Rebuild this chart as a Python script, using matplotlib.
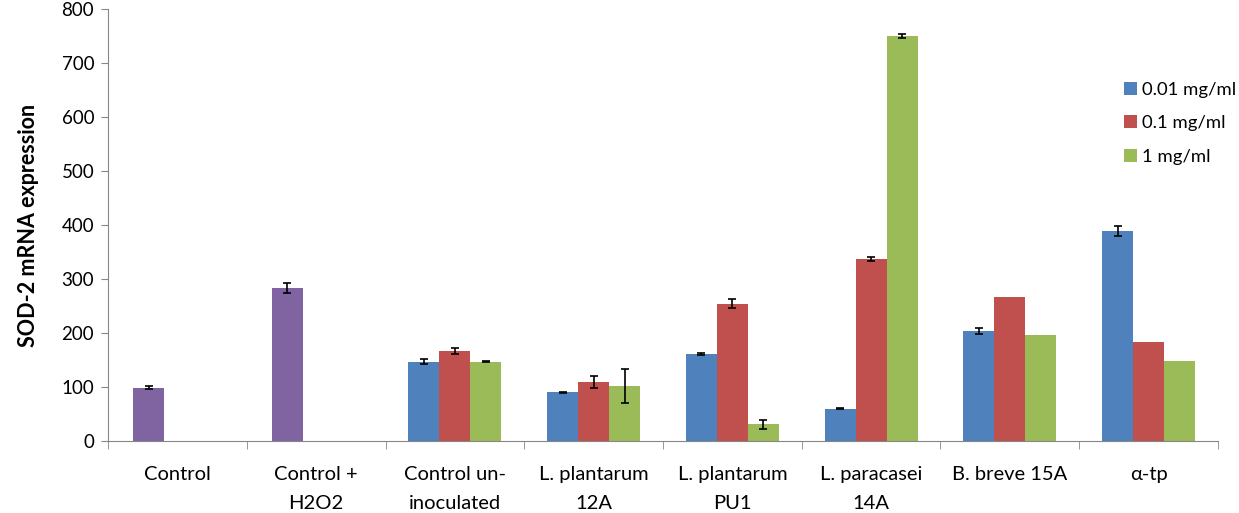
import numpy as np
import matplotlib.pyplot as plt

plt.rcParams['font.family'] = ['Lato', 'DejaVu Sans']

categories = ['Control', 'Control +\nH2O2', 'Control un-\ninoculated', 'L. plantarum\n12A',
              'L. plantarum\nPU1', 'L. paracasei\n14A', 'B. breve 15A', 'α-tp']
series_names = ['0.01 mg/ml', '0.1 mg/ml', '1 mg/ml']

# controls (single purple bar)
ctrl_vals = [99, 283]
ctrl_err = [2, 9]

# dose series for the remaining groups
low_vals = [147, 90, 161, 60, 204, 389]
low_err = [4, 1, 2, 1, 5, 9]
mid_vals = [167, 110, 254, 337, 267, 183]
mid_err = [6, 11, 8, 3, 0, 0]
high_vals = [147, 102, 31, 750, 196, 148]
high_err = [1, 31, 8, 3, 0, 0]

colors = ['#4F81BD', '#C0504D', '#9BBB59']
purple = '#8064A2'

fig = plt.figure(figsize=(12.39, 5.13), dpi=100)
ax = fig.add_axes([0.0872, 0.1404, 0.8958, 0.8421])

w = 0.223
x = np.arange(len(categories))
ekw = dict(elinewidth=1.2, capthick=1.2, ecolor='black')

ax.bar(x[:2] - w + 0.015, ctrl_vals, w, color=purple, yerr=ctrl_err, capsize=3, error_kw=ekw)
xs = x[2:]
for i, (vals, errs) in enumerate([(low_vals, low_err), (mid_vals, mid_err), (high_vals, high_err)]):
    errs = [e if e > 0 else np.nan for e in errs]
    ax.bar(xs + (i - 1) * w, vals, w, color=colors[i], label=series_names[i],
           yerr=errs, capsize=3, error_kw=ekw)

ax.set_xlim(-0.5, len(categories) - 0.5)
ax.set_ylim(0, 800)
ax.set_yticks(range(0, 801, 100))
ax.tick_params(axis='y', labelsize=13.5, length=5, color='#868686', pad=5)
ax.set_xticks(x)
ax.set_xticklabels(categories, fontsize=14.5, linespacing=1.85)
ax.tick_params(axis='x', length=0, pad=18)
# category boundary ticks
ax.set_xticks(np.arange(-0.5, len(categories), 1), minor=True)
ax.tick_params(axis='x', which='minor', length=6, color='#868686')

for s in ['top', 'right']:
    ax.spines[s].set_visible(False)
for s in ['left', 'bottom']:
    ax.spines[s].set_color('#868686')

ax.set_ylabel('SOD-2 mRNA expression', fontsize=15.5, fontweight='bold', labelpad=16)

ax.legend(loc='upper left', bbox_to_anchor=(0.9, 0.87), frameon=False, fontsize=13.3,
          handlelength=0.7, handleheight=0.7, handletextpad=0.3, labelspacing=0.95)

fig.savefig('out.png', dpi=100)
